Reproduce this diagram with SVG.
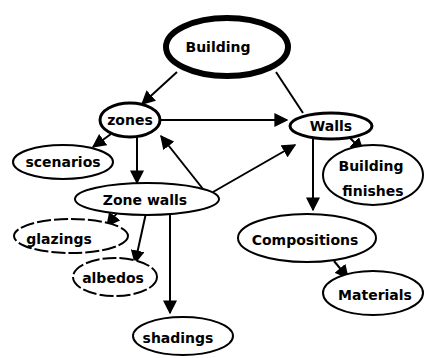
<svg xmlns="http://www.w3.org/2000/svg" width="425" height="358" viewBox="0 0 425 358">
<style>
.n{fill:#fff;stroke:#000;stroke-width:2}
.t{font-family:"DejaVu Sans",sans-serif;font-size:14px;font-weight:bold;text-anchor:middle;fill:#000}
.c{stroke:#000;stroke-width:2;fill:none}
.d{stroke-dasharray:14 3}
</style>
<defs>
<marker id="b" viewBox="0 0 10 10" refX="9" refY="5" markerWidth="14" markerHeight="14" markerUnits="userSpaceOnUse" orient="auto">
<path d="M0,0 L10,5 L0,10 z" fill="#000"/>
</marker>
</defs>
<g id="connectors">
<line class="c" x1="177" y1="72" x2="142" y2="104" marker-end="url(#b)"/>
<line class="c" x1="276" y1="72" x2="303" y2="113"/>
<line class="c" x1="111" y1="134" x2="93" y2="147" marker-end="url(#b)"/>
<line class="c" x1="160" y1="120" x2="287" y2="120" marker-end="url(#b)"/>
<line class="c" x1="137" y1="137" x2="137" y2="183" marker-end="url(#b)"/>
<line class="c" x1="203" y1="189" x2="161" y2="136" marker-end="url(#b)"/>
<line class="c" x1="213" y1="192" x2="295" y2="145" marker-end="url(#b)"/>
<line class="c" x1="350" y1="138" x2="363" y2="151" marker-end="url(#b)"/>
<line class="c" x1="313" y1="139" x2="313" y2="210" marker-end="url(#b)"/>
<line class="c" x1="334" y1="261" x2="348" y2="278" marker-end="url(#b)"/>
<line class="c" x1="117" y1="213" x2="107" y2="226" marker-end="url(#b)"/>
<line class="c" x1="146" y1="213" x2="135" y2="263" marker-end="url(#b)"/>
<line class="c" x1="170" y1="214" x2="170" y2="313" marker-end="url(#b)"/>
</g>
<g id="building"><ellipse cx="227" cy="47" rx="61" ry="29" fill="#fff" stroke="#000" stroke-width="6"/><text class="t" x="218" y="52">Building</text></g>
<g id="zones"><ellipse cx="130" cy="120" rx="30" ry="17" fill="#fff" stroke="#000" stroke-width="3"/><text class="t" x="130" y="125">zones</text></g>
<g id="scenarios"><ellipse class="n" cx="63" cy="162" rx="50" ry="17"/><text class="t" x="63" y="167">scenarios</text></g>
<g id="zonewalls"><ellipse class="n" cx="147" cy="199" rx="72" ry="16"/><text class="t" x="145" y="205">Zone walls</text></g>
<g id="walls"><ellipse cx="331" cy="126" rx="41" ry="13" fill="#fff" stroke="#000" stroke-width="3"/><text class="t" x="331" y="131">Walls</text></g>
<g id="finishes"><ellipse class="n" cx="373" cy="175" rx="50" ry="30"/><text class="t" x="371" y="171">Building</text><text class="t" x="373" y="196">finishes</text></g>
<g id="compositions"><ellipse class="n" cx="307" cy="238" rx="69" ry="24"/><text class="t" x="305" y="245">Compositions</text></g>
<g id="materials"><ellipse class="n" cx="373" cy="293" rx="50" ry="22"/><text class="t" x="375" y="300">Materials</text></g>
<g id="glazings"><ellipse class="n d" cx="71" cy="236" rx="57" ry="17"/><text class="t" x="59" y="244">glazings</text></g>
<g id="albedos"><ellipse class="n d" cx="115" cy="277" rx="42" ry="19"/><text class="t" x="113" y="283">albedos</text></g>
<g id="shadings"><ellipse class="n" cx="183" cy="336" rx="50" ry="19"/><text class="t" x="178" y="343">shadings</text></g>
</svg>
